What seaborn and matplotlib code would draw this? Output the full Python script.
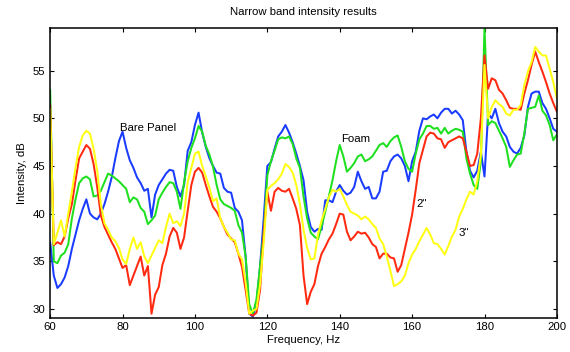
import numpy as np
import pandas as pd
import matplotlib
matplotlib.use("Agg")
import matplotlib.pyplot as plt
import seaborn as sns

# frequency axis, 1 Hz steps from 60 to 200
freq = list(range(60, 201))

# values (dB)
bare_panel = [37, 33.5, 32.2, 32.6, 33.3, 34.5, 36.3, 37.8, 39.3, 40.5, 41.5, 40.0, 39.6, 39.4, 40.0, 41.0, 42.3, 43.8, 45.8, 47.6, 48.6, 46.9, 45.6,
              44.8, 43.8, 43.2, 42.4, 42.6, 39.6, 42.0, 43.0, 43.6, 44.2, 44.6, 44.5, 42.8, 41.8, 43.0, 46.6, 47.5, 49.3, 50.6, 48.5, 47.0, 45.8, 45.0,
              44.3, 44.2, 42.7, 42.3, 42.2, 40.6, 40.2, 39.3, 35.5, 29.5, 29.2, 30.5, 34.5, 39.5, 45.0, 45.4, 46.8, 48.1, 48.6, 49.3, 48.5, 47.5, 46.3, 45.0,
              43.5, 40.2, 38.6, 38.1, 38.4, 38.3, 41.4, 41.4, 41.2, 42.3, 43.0, 42.4, 42.0, 42.2, 42.8, 44.4, 43.4, 42.6, 42.8, 41.6, 41.6, 42.3, 44.4,
              44.5, 45.5, 46.0, 46.2, 45.8, 45.0, 43.4, 45.5, 46.5, 48.7, 50.0, 49.9, 50.2, 50.4, 50.0, 50.6, 51.0, 51.0, 50.5, 50.8, 50.4, 49.8, 46.5, 44.5,
              43.8, 44.5, 46.5, 43.9, 50.5, 50.0, 51.0, 49.5, 48.6, 48.1, 47.0, 46.5, 46.3, 46.9, 48.2, 51.2, 52.6, 52.8, 52.8, 51.6, 51.0, 50.0, 48.9, 48.6]

foam = [53.0, 35.0, 34.8, 35.6, 35.9, 36.8, 39.5, 41.5, 43.2, 43.7, 43.9, 43.6, 41.8, 41.9, 42.4, 43.3, 44.2, 44.0, 43.7, 43.4, 43.0, 42.6, 41.2,
        41.7, 41.5, 40.6, 40.2, 38.9, 39.3, 39.8, 41.5, 42.2, 42.8, 43.3, 43.2, 42.3, 40.5, 43.3, 45.5, 46.9, 47.9, 49.2, 48.6, 47.1, 46.2, 44.9,
        43.0, 41.5, 41.0, 40.8, 40.6, 40.3, 38.8, 38.0, 35.5, 30.5, 29.5, 31.0, 34.5, 38.0, 44.0, 45.5, 46.6, 47.8, 48.0, 47.9, 48.1, 47.3, 45.8, 44.8,
        41.8, 39.5, 38.0, 37.6, 37.3, 38.7, 40.2, 41.8, 43.5, 45.5, 47.2, 46.0, 44.4, 44.8, 45.3, 46.0, 46.2, 45.5, 45.7, 46.0, 46.6, 47.2, 47.4,
        47.0, 47.6, 48.0, 48.2, 47.0, 45.5, 44.7, 44.4, 46.3, 47.8, 48.4, 49.2, 49.2, 48.9, 49.0, 48.4, 49.0, 48.4, 48.7, 48.9, 48.8, 48.6, 45.8, 44.2,
        43.0, 42.6, 45.5, 59.5, 49.3, 49.7, 49.5, 48.7, 47.9, 47.0, 44.9, 45.6, 46.2, 46.3, 48.4, 51.0, 51.1, 51.2, 52.4, 50.8, 50.3, 49.3, 47.7, 48.3]

two_inch = [51.4, 36.7, 37.0, 36.8, 37.6, 39.5, 41.0, 43.5, 45.8, 46.5, 47.2, 46.8, 45.2, 42.8, 39.8, 38.6, 37.8, 37.0, 36.3, 35.3, 34.3, 34.6, 32.5,
            33.5, 34.5, 35.5, 33.5, 34.5, 29.5, 31.5, 32.3, 34.6, 35.8, 37.6, 38.5, 38.0, 36.3, 37.5, 40.3, 43.0, 44.4, 44.8, 44.3, 43.0, 41.8, 40.7,
            40.2, 39.5, 38.6, 37.8, 37.4, 37.0, 35.8, 34.4, 32.0, 29.5, 29.3, 29.6, 32.0, 38.0, 42.3, 40.3, 42.3, 42.7, 42.4, 42.3, 42.6, 41.6, 40.5, 38.8,
            33.5, 30.5, 31.8, 32.6, 34.5, 35.8, 36.5, 37.3, 37.9, 38.9, 40.0, 39.9, 38.1, 37.2, 37.6, 38.1, 37.9, 38.0, 37.5, 36.8, 36.5, 35.3, 35.8,
            35.8, 35.4, 35.3, 33.9, 34.6, 36.3, 38.0, 39.9, 42.5, 45.3, 46.7, 48.1, 48.5, 48.4, 47.9, 47.8, 46.9, 47.5, 47.7, 47.9, 48.1, 47.9, 46.5, 45.0,
            45.1, 46.3, 50.0, 56.6, 53.1, 54.2, 54.0, 53.0, 52.6, 51.9, 51.1, 51.0, 51.0, 50.9, 52.6, 54.0, 55.6, 57.0, 55.9, 54.9, 53.8, 52.6, 51.6, 50.7]

three_inch = [51.0, 36.8, 38.0, 39.3, 37.6, 40.0, 42.3, 44.8, 47.0, 48.2, 48.7, 48.4, 46.8, 44.5, 41.0, 39.0, 38.3, 37.5, 37.1, 36.4, 35.2, 34.7, 36.3,
              37.5, 36.3, 37.0, 35.5, 34.8, 35.6, 36.4, 37.2, 36.9, 38.6, 40.0, 39.0, 39.2, 38.7, 40.0, 43.3, 44.8, 46.3, 46.5, 45.0, 43.9, 42.7, 41.3,
              41.6, 39.5, 38.6, 38.0, 37.3, 37.2, 35.8, 35.2, 32.8, 29.5, 29.8, 30.0, 32.6, 37.0, 42.5, 42.9, 43.2, 43.6, 44.2, 45.2, 44.9, 44.3, 43.0, 41.0,
              38.3, 36.4, 35.2, 35.3, 37.8, 39.3, 40.5, 41.7, 42.5, 42.3, 42.6, 41.8, 40.9, 40.2, 40.0, 39.8, 39.4, 39.7, 39.4, 38.9, 38.5, 37.4, 36.8,
              35.5, 34.0, 32.4, 32.6, 32.9, 33.5, 34.8, 35.7, 36.3, 37.1, 37.8, 38.5, 37.8, 36.9, 36.8, 36.3, 35.7, 36.6, 37.6, 38.3, 39.7, 40.5, 41.5, 42.3,
              42.0, 43.4, 46.2, 55.6, 50.0, 51.2, 51.9, 51.5, 51.2, 50.5, 50.3, 50.9, 50.9, 51.4, 53.5, 54.9, 55.9, 57.5, 57.0, 56.6, 56.6, 55.2, 53.8, 52.1]

series_names = ["Bare Panel", "Foam", '2"', '3"']
series_colors = ["#1a3cff", "#1ee01e", "#ff2a10", "#ffff14"]

df = pd.DataFrame({
    "freq": freq * 4,
    "dB": bare_panel + foam + two_inch + three_inch,
    "series": np.repeat(series_names, len(freq)),
})

sns.set_style("ticks", {"axes.edgecolor": "black", "xtick.color": "black", "ytick.color": "black",
                        "text.color": "black", "axes.labelcolor": "black"})
plt.rcParams["font.family"] = ["Liberation Sans", "DejaVu Sans"]

fig = plt.figure(figsize=(5.7, 3.52), dpi=100)
ax = fig.add_axes([0.088, 0.098, 0.889, 0.823])

sns.lineplot(data=df, x="freq", y="dB", hue="series", hue_order=series_names,
             palette=dict(zip(series_names, series_colors)), linewidth=1.45,
             legend=False, ax=ax, estimator=None)

# in-plot labels
ax.text(79.3, 49.0, "Bare Panel", fontsize=8.2, va="center")
ax.text(140.5, 47.8, "Foam", fontsize=8.2, va="center")
ax.text(161.2, 41.0, '2"', fontsize=8.2, va="center")
ax.text(172.9, 38.0, '3"', fontsize=8.2, va="center")

ax.set_xlim(60, 200)
ax.set_ylim(29.1, 59.5)
ax.set_xticks(range(60, 201, 20))
ax.set_yticks(range(30, 56, 5))
ax.tick_params(direction="in", top=True, right=True, labelsize=8.2, length=3, width=0.8, colors="black")
for s in ax.spines.values():
    s.set_linewidth(1.1)
    s.set_color("black")
    s.set_visible(True)

ax.set_title("Narrow band intensity results", fontsize=8.2, pad=9)
ax.set_xlabel("Frequency, Hz", fontsize=8.2, labelpad=2)
ax.set_ylabel("Intensity, dB", fontsize=8.2, labelpad=4)

fig.savefig("out.png", dpi=100)
